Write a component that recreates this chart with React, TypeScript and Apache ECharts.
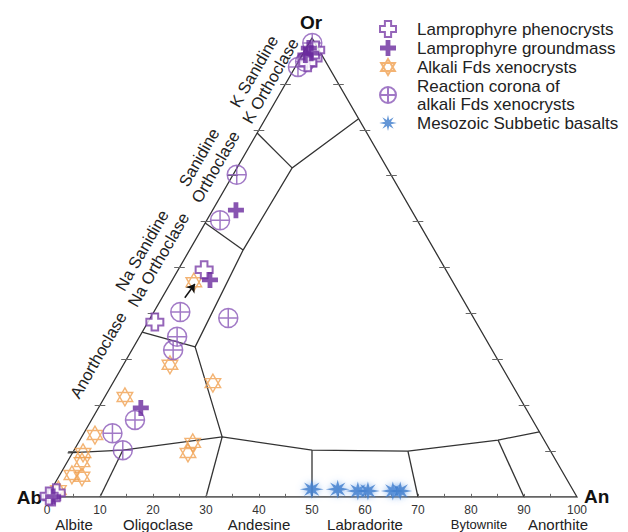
import React, { useEffect, useRef } from "react";
import * as echarts from "echarts";

const S3 = Math.sqrt(3) / 2;
const FONT = "'Liberation Sans', Arial, Helvetica, sans-serif";

// Compositions as [An %, Or %] (Ab = 100 - An - Or)
const phenocrysts = [
  [2.4, 95.6], [1.9, 94.6], [2.0, 97.4], [4.9, 49.5], [1.3, 38.1],
  [0.9, 0], [1.3, 0.9], [0.3, 0.2],
];
const groundmass = [
  [0.5, 97.8], [0.6, 96.3], [1.5, 96.7], [4.4, 62.5], [7.1, 47.3], [8.0, 19.4], [1.1, 0.1],
];
const alkaliXeno = [
  [4.3, 46.8], [8.8, 28.8], [18.9, 24.8], [3.8, 21.8], [2.3, 13.5], [2.0, 9.6],
  [2.8, 7.6], [2.3, 4.8], [4.4, 4.4], [1.4, 1.5], [21.8, 9.6], [21.6, 11.8],
];
const corona = [
  [0.6, 98.9], [0.5, 93.7], [1.3, 94.8], [0.7, 70.2], [2.5, 60.3], [5.0, 40.3],
  [14.7, 39.0], [7.1, 34.9], [7.8, 32.0], [8.2, 16.8], [5.4, 13.9], [9.2, 10.2],
];
const basalts = [
  [49.1, 1.7], [54.0, 1.7], [58.0, 1.3], [59.9, 1.3], [64.6, 1.3], [66.0, 1.3],
];
const arrowFrom = [4.3, 43.4];
const arrowTo = [4.7, 46.4];

// Field boundaries, [An, Or]
const outline = [[0, 0], [100, 0], [0, 100], [0, 0]];
const plagAlkBoundary = [[-0.9, 9.6], [9.2, 10.2], [26.5, 13.1], [44.9, 10.2], [63.1, 10.0], [78.9, 12.4], [85.8, 14.2]];
const plagDividers = [
  [[10, 0], [9.2, 10.2]],
  [[30, 0], [26.5, 13.1]],
  [[50, 0], [44.9, 10.2]],
  [[70, 0], [63.1, 10.0]],
  [[90, 0], [78.9, 12.4]],
];
const alkaliInner = [[26.5, 13.1], [11.6, 32.7], [10.1, 53.8], [10.4, 71.7], [17.6, 82.4]];
const alkaliDividers = [
  [[10.4, 71.7], [0, 79.3]],
  [[10.1, 53.8], [0, 59.7]],
  [[11.6, 32.7], [0, 35.9]],
];
const bottomTicks = [5, 10, 15, 20, 25, 30, 35, 40, 45, 50, 55, 60, 65, 70, 75, 80, 85, 90, 95];
const edgeTicks = [10, 20, 30, 40, 50, 60, 70, 80, 90];
const xTickLabels = [0, 10, 20, 30, 40, 50, 60, 70, 80, 90, 100];

const plagNames = [
  { text: "Albite", x: 74, size: 15 },
  { text: "Oligoclase", x: 158, size: 15 },
  { text: "Andesine", x: 259, size: 15 },
  { text: "Labradorite", x: 365, size: 15 },
  { text: "Bytownite", x: 479, size: 13 },
  { text: "Anorthite", x: 558, size: 15 },
];
const edgeLabels = [
  { text: "K Sanidine\nK Orthoclase", x: 262, y: 76 },
  { text: "Sanidine\nOrthoclase", x: 207, y: 162 },
  { text: "Na Sanidine\nNa Orthoclase", x: 150, y: 255 },
  { text: "Anorthoclase", x: 98, y: 355 },
];

const NAME_PHEN = "Lamprophyre phenocrysts";
const NAME_GROUND = "Lamprophyre groundmass";
const NAME_ALK = "Alkali Fds xenocrysts";
const NAME_COR = "Reaction corona of alkali Fds xenocrysts";
const NAME_BAS = "Mesozoic Subbetic basalts";

const xy = (p: number[]) => [p[0] + p[1] / 2, p[1] * S3];

const SYM_OPEN_CROSS = "path://M-3.5,-9L3.5,-9L3.5,-3.5L9,-3.5L9,3.5L3.5,3.5L3.5,9L-3.5,9L-3.5,3.5L-9,3.5L-9,-3.5L-3.5,-3.5Z";
const SYM_PLUS = "path://M-2.7,-9L2.7,-9L2.7,-2.7L9,-2.7L9,2.7L2.7,2.7L2.7,9L-2.7,9L-2.7,2.7L-9,2.7L-9,-2.7L-2.7,-2.7Z";
const SYM_HEX = "path://M0,-10L8.66,5L-8.66,5ZM0,10L-8.66,-5L8.66,-5Z";
const SYM_OPLUS = "path://M-10,0A10,10,0,1,1,10,0A10,10,0,1,1,-10,0ZM-10,0L10,0M0,-10L0,10";
const SYM_STAR =
  "path://M0,-10L1.5,-3.6L7.07,-7.07L3.6,-1.5L11,0L3.6,1.5L7.07,7.07L1.5,3.6L0,10L-1.5,3.6L-7.07,7.07L-3.6,1.5L-11,0L-3.6,-1.5L-7.07,-7.07L-1.5,-3.6Z";

export default function App() {
  const ref = useRef<HTMLDivElement>(null);
  useEffect(() => {
    if (!ref.current) return;
    const chart = echarts.init(ref.current, undefined, { renderer: "svg" });

    const boundaryPolys = [outline, plagAlkBoundary, alkaliInner, ...plagDividers, ...alkaliDividers].map((poly) => ({
      coords: poly.map(xy),
    }));
    const tickSegs: any[] = [];
    bottomTicks.forEach((v) => tickSegs.push({ coords: [[v, -0.6], [v, 0.6]] }));
    edgeTicks.forEach((v) => {
      const r = xy([100 - v, v]);
      tickSegs.push({ coords: [[r[0] - 1, r[1]], [r[0] + 1, r[1]]] });
      const l = xy([0, v]);
      tickSegs.push({ coords: [[l[0] - 1, l[1]], [l[0] + 1, l[1]]] });
    });

    const scatter = (name: string, data: number[][], symbol: string, size: number | number[], itemStyle: any, z = 5) => ({
      type: "scatter",
      name,
      data: data.map(xy),
      symbol,
      symbolSize: size,
      symbolKeepAspect: true,
      clip: false,
      z,
      itemStyle,
    });

    const graphics: any[] = [
      { type: "text", x: 311, y: 22, style: { text: "Or", fontSize: 19, fontWeight: "bold", fontFamily: FONT, fill: "#111", align: "center", verticalAlign: "middle", textAlign: "center", textVerticalAlign: "middle" } },
      { type: "text", x: 42, y: 497, style: { text: "Ab", fontSize: 19, fontWeight: "bold", fontFamily: FONT, fill: "#111", align: "right", verticalAlign: "middle", textAlign: "right", textVerticalAlign: "middle" } },
      { type: "text", x: 584, y: 496, style: { text: "An", fontSize: 19, fontWeight: "bold", fontFamily: FONT, fill: "#111", align: "left", verticalAlign: "middle", textAlign: "left", textVerticalAlign: "middle" } },
      ...plagNames.map((n) => ({
        type: "text", x: n.x, y: 524,
        style: { text: n.text, fontSize: n.size, fontFamily: FONT, fill: "#222", align: "center", verticalAlign: "middle", textAlign: "center", textVerticalAlign: "middle" },
      })),
      ...edgeLabels.map((n) => ({
        type: "text", x: n.x, y: n.y, rotation: Math.PI / 3,
        style: { text: n.text, fontSize: 16.5, lineHeight: 19, fontFamily: FONT, fill: "#222", align: "center", verticalAlign: "middle", textAlign: "center", textVerticalAlign: "middle" },
      })),
    ];

    chart.setOption({
      animation: false,
      backgroundColor: "#fff",
      grid: { left: 47, right: 51, top: 38, bottom: 35, containLabel: false },
      xAxis: {
        type: "value", min: 0, max: 100, interval: 10,
        axisLine: { show: false }, axisTick: { show: false }, splitLine: { show: false },
        axisLabel: { fontSize: 12, margin: 7, color: "#333", fontFamily: FONT, formatter: (v: number) => (xTickLabels.includes(v) ? String(v) : "") },
      },
      yAxis: { type: "value", min: 0, max: 100 * S3, show: false, splitLine: { show: false } },
      legend: {
        orient: "vertical", left: 374, top: 15, itemWidth: 48, itemHeight: 16, itemGap: 1,
        textStyle: { fontSize: 17, lineHeight: 18, color: "#222", fontFamily: FONT },
        data: [NAME_PHEN, NAME_GROUND, NAME_ALK, NAME_COR, NAME_BAS],
        formatter: (name: string) => (name === NAME_COR ? "Reaction corona of\nalkali Fds xenocrysts" : name),
        selectedMode: false,
      },
      graphic: graphics,
      series: [
        { type: "lines", coordinateSystem: "cartesian2d", polyline: true, silent: true, data: boundaryPolys, lineStyle: { color: "#333", width: 1.3, opacity: 1 }, z: 1 },
        { type: "lines", coordinateSystem: "cartesian2d", polyline: false, silent: true, data: tickSegs, lineStyle: { color: "#666", width: 1, opacity: 1 }, z: 1 },
        scatter(NAME_BAS, basalts, SYM_STAR, [24, 21], { color: "#3d7ccc", shadowBlur: 6, shadowColor: "rgba(110,165,235,0.95)" }, 3),
        scatter(NAME_ALK, alkaliXeno, SYM_HEX, 18, { color: "rgba(255,255,255,0)", borderColor: "#f0a050", borderWidth: 1.4 }, 4),
        scatter(NAME_COR, corona, SYM_OPLUS, 19, { color: "rgba(255,255,255,0)", borderColor: "#8a58b8", borderWidth: 1.5 }, 5),
        scatter(NAME_PHEN, phenocrysts, SYM_OPEN_CROSS, 17, { color: "#ffffff", borderColor: "#7a3fa8", borderWidth: 2 }, 6),
        scatter(NAME_GROUND, groundmass, SYM_PLUS, 16, { color: "#6a2b9e" }, 7),
        {
          type: "lines", coordinateSystem: "cartesian2d", silent: true,
          data: [{ coords: [xy(arrowFrom), xy(arrowTo)] }],
          symbol: ["none", "arrow"], symbolSize: 8,
          lineStyle: { color: "#111", width: 1.5, opacity: 1 }, z: 8,
        },
      ],
    });
    return () => chart.dispose();
  }, []);
  return <div ref={ref} style={{ width: 628, height: 532, position: "absolute", left: 0, top: 0 }} />;
}
